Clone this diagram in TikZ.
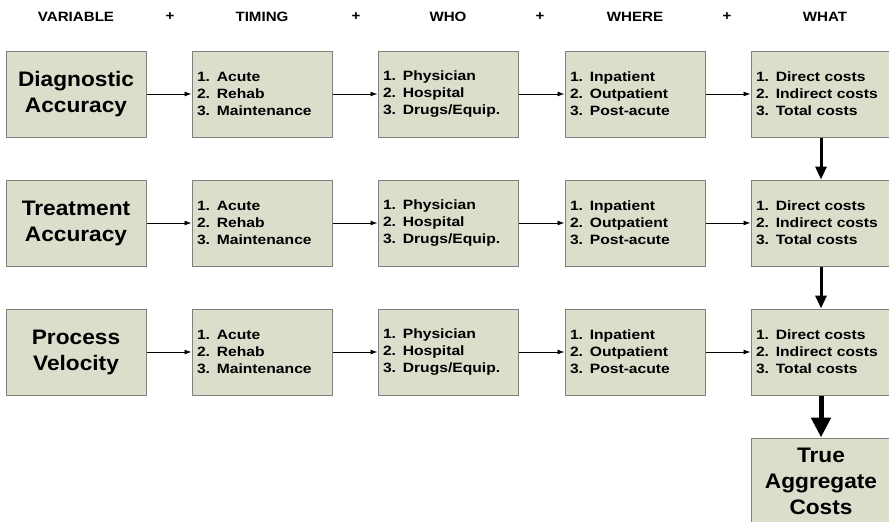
\documentclass[tikz,border=0pt]{standalone}
\usepackage{fontspec}
\setmainfont{Liberation Sans}
\newfontfamily\listfont[FakeStretch=1.16]{Liberation Sans}
\newfontfamily\headfont[FakeStretch=1.12]{Liberation Sans}
\newfontfamily\bigfont[FakeStretch=1.08]{Liberation Sans}
\usetikzlibrary{arrows.meta,shadows}
\definecolor{boxfill}{RGB}{220,221,203}
\definecolor{boxline}{RGB}{128,128,128}
\tikzset{
  card/.style={draw=boxline, line width=1pt, fill=boxfill,
    drop shadow={shadow xshift=1pt, shadow yshift=-1pt, fill=black!70, opacity=1},
    minimum width=140pt, minimum height=86pt, inner sep=0pt},
  varbox/.style={card, font=\bigfont\fontsize{21}{26}\selectfont\bfseries, align=center},
  listbox/.style={card, font=\listfont\fontsize{13.5}{17}\selectfont\bfseries,
    align=left, text width=130pt},
  header/.style={font=\headfont\fontsize{13.5}{16}\selectfont\bfseries},
  flow/.style={-{Latex[length=7pt,width=5pt]}, line width=0.9pt},
  down/.style={-{Triangle[length=13pt,width=11pt]}, line width=3pt},
  bigdown/.style={-{Triangle[length=20pt,width=19pt]}, line width=5pt},
}
% three-item numbered list; the phantoms keep every list at the same height
\newcommand{\lst}[3]{\vphantom{/}1.\enspace #1\\2.\enspace #2\\\vphantom{/}3.\enspace #3}
\begin{document}
\begin{tikzpicture}[x=1pt,y=-1pt]
\useasboundingbox (0,0) rectangle (889,522);
\clip (0,0) rectangle (889,522);

% column headings
\node[header] (hVar)   at (76,17)  {VARIABLE};
\node[header] (p1)     at (170,17) {+};
\node[header] (hTim)   at (262,17) {TIMING};
\node[header] (p2)     at (356,17) {+};
\node[header] (hWho)   at (448,17) {WHO};
\node[header] (p3)     at (540,17) {+};
\node[header] (hWhere) at (635,17) {WHERE};
\node[header] (p4)     at (727,17) {+};
\node[header] (hWhat)  at (825,17) {WHAT};

% three rows of boxes
\foreach \r/\y/\va/\vb in {1/94/Diagnostic/Accuracy, 2/223/Treatment/Accuracy, 3/352/Process/Velocity}{
  \node[varbox]  (v\r)  at (76,\y)  {\va\\\vb};
  \node[listbox] (t\r)  at (262,\y) {\lst{Acute}{Rehab}{Maintenance}};
  \node[listbox] (w\r)  at (448,\y) {\lst{Physician}{Hospital}{Drugs/Equip.}};
  \node[listbox] (h\r)  at (635,\y) {\lst{Inpatient}{Outpatient}{Post-acute}};
  \node[listbox] (c\r)  at (821,\y) {\lst{Direct costs}{Indirect costs}{Total costs}};
  \draw[flow] (v\r) -- (t\r);
  \draw[flow] (t\r) -- (w\r);
  \draw[flow] (w\r) -- (h\r);
  \draw[flow] (h\r) -- (c\r);
}

% final total
\node[varbox] (tot) at (821,481) {True\\Aggregate\\Costs};

\draw[down] (c1) -- (c2);
\draw[down] (c2) -- (c3);
\draw[bigdown] (c3) -- (tot);
\end{tikzpicture}
\end{document}
